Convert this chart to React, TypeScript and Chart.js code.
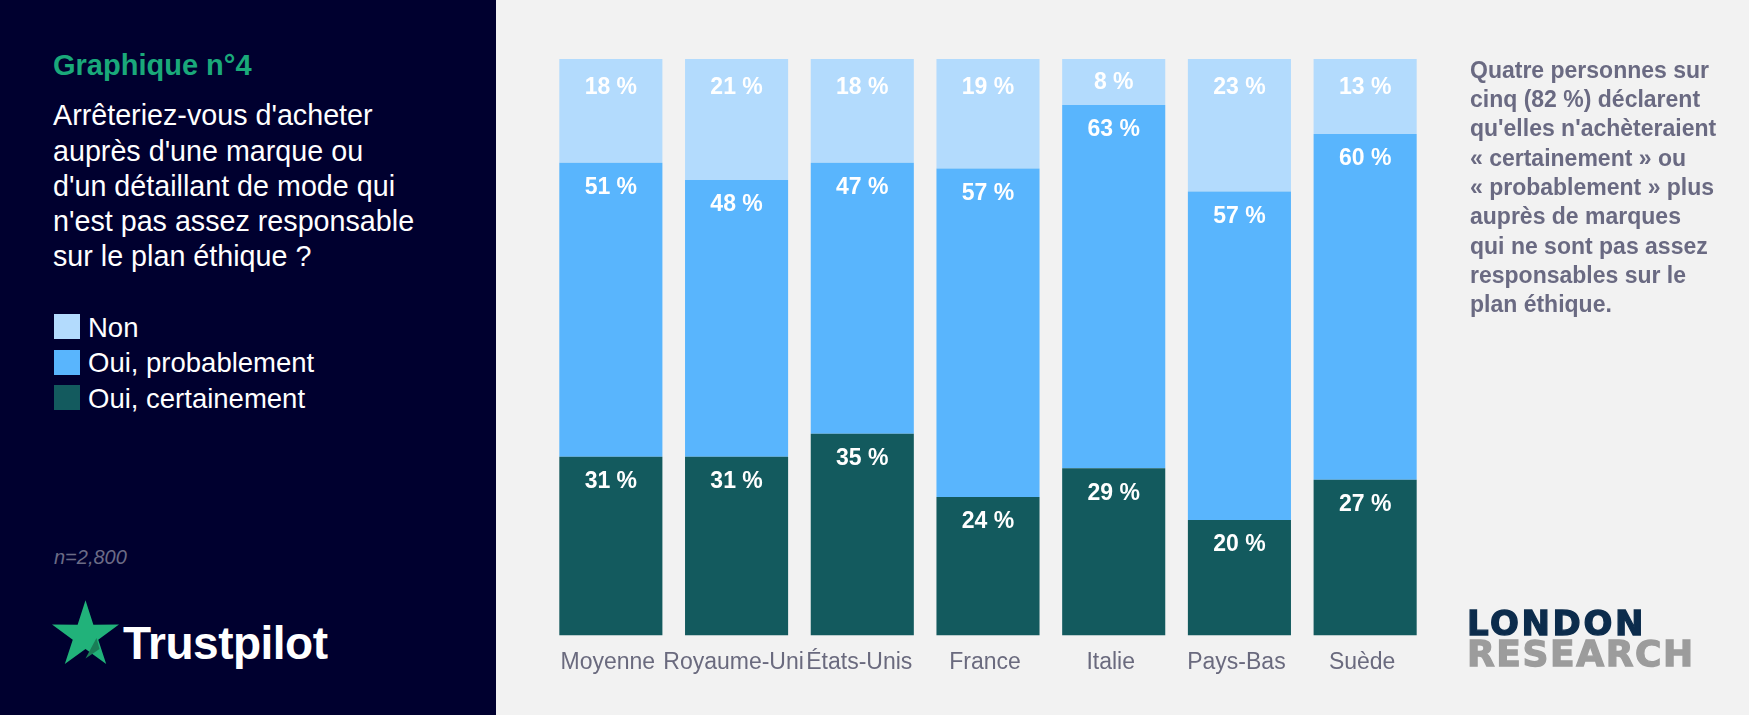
import React, { useEffect, useRef } from "react";
import { Chart, registerables } from "chart.js";

Chart.register(...registerables);

// ---- data ----
const categories = ["Moyenne", "Royaume-Uni", "États-Unis", "France", "Italie", "Pays-Bas", "Suède"];
const ouiCertainement = [31, 31, 35, 24, 29, 20, 27];
const ouiProbablement = [51, 48, 47, 57, 63, 57, 60];
const non = [18, 21, 18, 19, 8, 23, 13];
const seriesNames = ["Non", "Oui, probablement", "Oui, certainement"];
const seriesColors = ["#b3dbfd", "#59b5fd", "#135a5e"];

const titleText = "Graphique n°4";
const questionLines = [
  "Arrêteriez-vous d'acheter",
  "auprès d'une marque ou",
  "d'un détaillant de mode qui",
  "n'est pas assez responsable",
  "sur le plan éthique ?",
];
const noteLines = [
  "Quatre personnes sur",
  "cinq (82 %) déclarent",
  "qu'elles n'achèteraient",
  "« certainement » ou",
  "« probablement » plus",
  "auprès de marques",
  "qui ne sont pas assez",
  "responsables sur le",
  "plan éthique.",
];
const sampleText = "n=2,800";

const LIB = '"Liberation Sans", Arial, Helvetica, sans-serif';

const valueLabels = {
  id: "valueLabels",
  afterDatasetsDraw(chart: any) {
    const ctx = chart.ctx;
    ctx.save();
    ctx.font = `bold 23px ${LIB}`;
    ctx.fillStyle = "#ffffff";
    ctx.textAlign = "center";
    ctx.textBaseline = "middle";
    const last = chart.data.datasets.length - 1;
    chart.data.datasets.forEach((ds: any, i: number) => {
      const meta = chart.getDatasetMeta(i);
      meta.data.forEach((bar: any, j: number) => {
        const v = ds.data[j];
        const top = Math.min(bar.y, bar.base);
        const h = Math.abs(bar.base - bar.y);
        const off = i === last ? Math.min(28.5, h / 2 + 1) : 25;
        ctx.fillText(`${v} %`, bar.x, top + off);
      });
    });
    ctx.restore();
  },
};

function Txt(props: {
  x: number;
  baseline: number;
  size: number;
  lh?: number;
  color: string;
  weight?: string | number;
  italic?: boolean;
  family?: string;
  ascent?: number;
  content?: number;
  children: React.ReactNode;
  extra?: React.CSSProperties;
}) {
  const F = props.size;
  const L = props.lh ?? F;
  const asc = props.ascent ?? 0.905;
  const cont = props.content ?? 1.117;
  const top = props.baseline - ((L - cont * F) / 2 + asc * F);
  return (
    <div
      style={{
        position: "absolute",
        left: props.x,
        top,
        fontSize: F,
        lineHeight: `${L}px`,
        color: props.color,
        fontWeight: props.weight ?? "normal",
        fontStyle: props.italic ? "italic" : "normal",
        fontFamily: props.family ?? LIB,
        whiteSpace: "nowrap",
        ...props.extra,
      }}
    >
      {props.children}
    </div>
  );
}

function starPoints(cx: number, cy: number, R: number, r: number) {
  const pts: string[] = [];
  for (let k = 0; k < 10; k++) {
    const ang = -Math.PI / 2 + (k * Math.PI) / 5;
    const rad = k % 2 === 0 ? R : r;
    pts.push(`${(cx + rad * Math.cos(ang)).toFixed(2)},${(cy + rad * Math.sin(ang)).toFixed(2)}`);
  }
  return pts.join(" ");
}

export default function App() {
  const canvasRef = useRef<HTMLCanvasElement | null>(null);

  useEffect(() => {
    document.body.style.margin = "0";
    document.body.style.overflow = "hidden";
    const canvas = canvasRef.current;
    if (!canvas) return;
    const chart = new Chart(canvas, {
      type: "bar",
      data: {
        labels: categories,
        datasets: [
          { label: seriesNames[2], data: ouiCertainement, backgroundColor: seriesColors[2] },
          { label: seriesNames[1], data: ouiProbablement, backgroundColor: seriesColors[1] },
          { label: seriesNames[0], data: non, backgroundColor: seriesColors[0] },
        ],
      },
      options: {
        responsive: false,
        animation: false,
        devicePixelRatio: 1,
        layout: { padding: { left: 52, right: 321, top: 59, bottom: 25 } },
        datasets: { bar: { categoryPercentage: 1, barPercentage: 0.82, borderWidth: 0 } },
        plugins: { legend: { display: false }, tooltip: { enabled: false }, title: { display: false } },
        scales: {
          x: {
            stacked: true,
            grid: { display: false, drawTicks: false },
            border: { display: false },
            ticks: {
              color: "#6a6a7e",
              font: { family: LIB, size: 23 },
              padding: 13.5,
              labelOffset: -3,
              maxRotation: 0,
              minRotation: 0,
              autoSkip: false,
            },
          },
          y: { stacked: true, min: 0, max: 100, display: false },
        },
      },
      plugins: [valueLabels],
    } as any);
    return () => chart.destroy();
  }, []);

  return (
    <div
      style={{
        position: "absolute",
        left: 0,
        top: 0,
        width: 1749,
        height: 715,
        background: "#f2f2f2",
        overflow: "hidden",
      }}
    >
      <div style={{ position: "absolute", left: 0, top: 0, width: 496, height: 715, background: "#00002f" }} />
      <canvas
        ref={canvasRef}
        width={1253}
        height={715}
        style={{ position: "absolute", left: 496, top: 0, width: 1253, height: 715 }}
      />

      <Txt x={53} baseline={76} size={29} color="#1aa97a" weight="bold">
        {titleText}
      </Txt>
      <Txt x={53} baseline={126} size={28.7} lh={35.2} color="#ffffff">
        {questionLines.map((l, i) => (
          <div key={i}>{l}</div>
        ))}
      </Txt>

      {seriesNames.map((name, i) => (
        <React.Fragment key={name}>
          <div
            style={{
              position: "absolute",
              left: 54,
              top: 314 + i * 35.5,
              width: 26,
              height: 25,
              background: seriesColors[i],
            }}
          />
          <Txt x={88} baseline={337 + i * 35.5} size={27.5} color="#ffffff">
            {name}
          </Txt>
        </React.Fragment>
      ))}

      <Txt x={54} baseline={564} size={20} color="#6b6b86" italic>
        {sampleText}
      </Txt>

      <svg style={{ position: "absolute", left: 0, top: 0 }} width={200} height={715}>
        <polygon points={starPoints(85.5, 635.5, 35.2, 13.4)} fill="#21b27a" />
        <polygon points="96.5,638 99.5,649 85.5,658.5" fill="#1a7d57" />
      </svg>
      <Txt x={123} baseline={659} size={46} color="#ffffff" weight="bold" extra={{ letterSpacing: -0.5 }}>
        Trustpilot
      </Txt>

      <Txt x={1470} baseline={78.5} size={23} lh={29.3} color="#6a6a82" weight="bold">
        {noteLines.map((l, i) => (
          <div key={i}>{l}</div>
        ))}
      </Txt>

      <Txt
        x={1467}
        baseline={635}
        size={34}
        color="#0c2c4c"
        weight="bold"
        family='"DejaVu Sans", sans-serif'
        ascent={0.928}
        content={1.164}
        extra={{ letterSpacing: 2.6, WebkitTextStroke: "1.3px #0c2c4c" } as any}
      >
        LONDON
      </Txt>
      <Txt
        x={1467}
        baseline={666}
        size={36}
        color="#9c9c9c"
        weight="bold"
        family='"DejaVu Sans", sans-serif'
        ascent={0.928}
        content={1.164}
        extra={{ letterSpacing: 1.6, WebkitTextStroke: "1.3px #9c9c9c" } as any}
      >
        RESEARCH
      </Txt>
    </div>
  );
}
